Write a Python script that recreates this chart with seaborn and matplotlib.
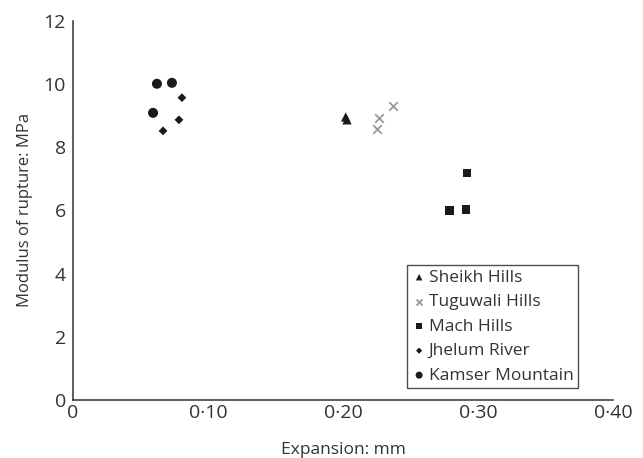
import matplotlib
matplotlib.use("Agg")
import matplotlib.pyplot as plt
import seaborn as sns
import pandas as pd

sns.set_theme(style="white")
plt.rcParams['font.family'] = ['Open Sans', 'DejaVu Sans']

groups = ["Sheikh Hills", "Tuguwali Hills", "Mach Hills", "Jhelum River", "Kamser Mountain"]
sheikh_x = [0.202, 0.203]
sheikh_y = [8.95, 8.86]
tuguwali_x = [0.237, 0.227, 0.225]
tuguwali_y = [9.30, 8.91, 8.57]
mach_x = [0.292, 0.279, 0.291]
mach_y = [7.18, 6.00, 6.03]
jhelum_x = [0.0807, 0.0785, 0.0667]
jhelum_y = [9.56, 8.86, 8.51]
kamser_x = [0.0622, 0.0733, 0.0593]
kamser_y = [10.00, 10.03, 9.08]

xs = [sheikh_x, tuguwali_x, mach_x, jhelum_x, kamser_x]
ys = [sheikh_y, tuguwali_y, mach_y, jhelum_y, kamser_y]

xticks = [0, 0.10, 0.20, 0.30, 0.40]
xticklabels = ["0", "0·10", "0·20", "0·30", "0·40"]
yticks = [0, 2, 4, 6, 8, 10, 12]

styles = {
    "Sheikh Hills": dict(marker="^", color="#1a1a1a", s=45),
    "Tuguwali Hills": dict(marker="x", color="#999999", s=38, linewidth=1.3),
    "Mach Hills": dict(marker="s", color="#1a1a1a", s=38),
    "Jhelum River": dict(marker="D", color="#1a1a1a", s=20),
    "Kamser Mountain": dict(marker="o", color="#1a1a1a", s=52),
}

fig = plt.figure(figsize=(6.43, 4.58), dpi=100)
ax = fig.add_axes([0.1135, 0.1266, 0.8398, 0.8286])

for g, x, y in zip(groups, xs, ys):
    df = pd.DataFrame({"x": x, "y": y})
    st = styles[g]
    kw = dict(marker=st["marker"], color=st["color"], s=st["s"], label=g, ax=ax)
    if st["marker"] == "x":
        kw["linewidth"] = st["linewidth"]
    else:
        kw["edgecolor"] = "none"
    sns.scatterplot(data=df, x="x", y="y", **kw)

ax.set_xlim(0, 0.40)
ax.set_ylim(0, 12)
ax.set_xticks(xticks)
ax.set_xticklabels(xticklabels)
ax.set_yticks(yticks)
ax.tick_params(axis="both", length=0, labelsize=14, colors="#333333")
ax.tick_params(axis="x", pad=3)
ax.tick_params(axis="y", pad=5)
ax.set_xlabel("Expansion: mm", fontsize=12.5, color="#333333", labelpad=14)
ax.set_ylabel("Modulus of rupture: MPa", fontsize=12, color="#333333", labelpad=8)
for side in ["top", "right"]:
    ax.spines[side].set_visible(False)
for side in ["left", "bottom"]:
    ax.spines[side].set_color("#333333")
    ax.spines[side].set_linewidth(1.1)

leg = ax.legend(loc="lower left", bbox_to_anchor=(0.6185, 0.0316), fontsize=12.5,
                markerscale=0.7, frameon=True, fancybox=False, handletextpad=0.1,
                handlelength=0.9, borderpad=0.25, labelspacing=0.48, borderaxespad=0)
leg.get_frame().set_edgecolor("#222222")
leg.get_frame().set_linewidth(1.0)
for t in leg.get_texts():
    t.set_color("#333333")

fig.savefig("out.png", dpi=100)
